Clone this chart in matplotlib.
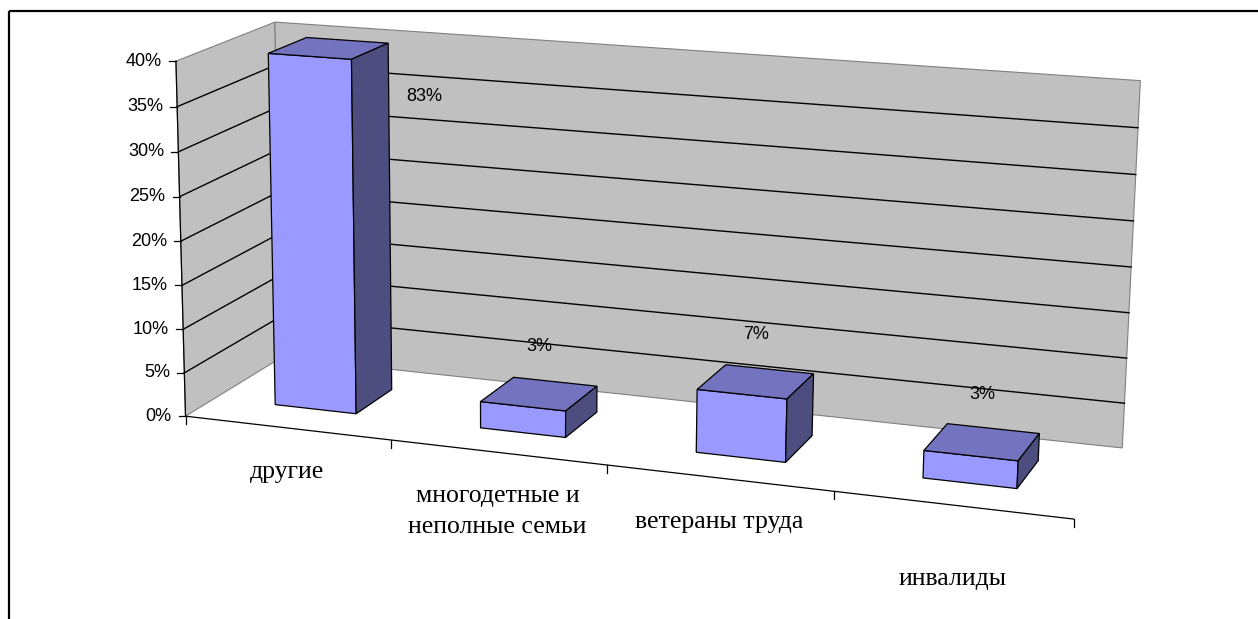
import numpy as np
import matplotlib.pyplot as plt
from matplotlib.patches import Polygon, Rectangle

categories = ["другие", "многодетные и\nнеполные семьи", "ветераны труда", "\nинвалиды"]
shares = [83, 3, 7, 3]
value_labels = ["83%", "3%", "7%", "3%"]
y_ticks = [0, 5, 10, 15, 20, 25, 30, 35, 40]
y_max = 40

# camera: where corners of the plot box (category, percent, depth) land on the canvas in px
box_world = [(0, 0, 0), (4, 0, 0), (0, 40, 0), (0, 0, 1), (0, 40, 1),
             (4, 40, 1), (4, 0, 1), (1, 0, 0), (2, 0, 0), (3, 0, 0)]
box_px = [(188, 413), (1074, 520), (173, 61), (278, 360), (278, 22),
          (1140, 81), (1123, 445), (392, 440), (608, 466), (832, 493)]


def fit_camera(world, px):
    rows, rhs = [], []
    for (X, Y, Z), (u, v) in zip(world, px):
        rows.append([X, Y, Z, 1, 0, 0, 0, 0, -u * X, -u * Y, -u * Z])
        rhs.append(u)
        rows.append([0, 0, 0, 0, X, Y, Z, 1, -v * X, -v * Y, -v * Z])
        rhs.append(v)
    p, *_ = np.linalg.lstsq(np.array(rows, float), np.array(rhs, float), rcond=None)
    return np.append(p, 1.0).reshape(3, 4)


P = fit_camera(box_world, box_px)


def proj(x, y, z):
    h = P @ np.array([x, y, z, 1.0])
    return h[0] / h[2], h[1] / h[2]


def face(pts, **kw):
    return Polygon([proj(*p) for p in pts], closed=True, **kw)


def line(ax, pts, **kw):
    xy = np.array([proj(*p) for p in pts])
    ax.plot(xy[:, 0], xy[:, 1], **kw)


fig = plt.figure(figsize=(12.58, 6.19), dpi=100)
ax = fig.add_axes([0, 0, 1, 1])
ax.set_xlim(0, 1258)
ax.set_ylim(619, 0)
ax.axis("off")

ax.add_patch(Rectangle((9, 11), 1400, 800, fill=False, ec="black", lw=1.6))

n = len(categories)
wall = dict(fc="#C0C0C0", ec="#808080", lw=0.8, zorder=1)
ax.add_patch(face([(0, 0, 0), (0, y_max, 0), (0, y_max, 1), (0, 0, 1)], **wall))
ax.add_patch(face([(0, 0, 1), (n, 0, 1), (n, y_max, 1), (0, y_max, 1)], **wall))
for t in y_ticks[1:-1]:
    line(ax, [(0, t, 0), (0, t, 1), (n, t, 1)], color="black", lw=1.0, zorder=2)

# value axis
line(ax, [(0, 0, 0), (0, y_max, 0)], color="black", lw=0.9)
for t in y_ticks:
    u, v = proj(0, t, 0)
    ax.plot([u - 7, u], [v, v], color="black", lw=0.9)
    ax.text(u - 14, v, f"{t}%", ha="right", va="center", fontsize=13,
            family="Liberation Sans")

# category axis
line(ax, [(0, 0, 0), (n, 0, 0)], color="black", lw=0.9)
for k in range(n + 1):
    u, v = proj(k, 0, 0)
    ax.plot([u, u], [v, v + 8], color="black", lw=0.9)
for i, name in enumerate(categories):
    u, v = proj(i + 0.5, 0, 0)
    ax.text(u, v + 33, name, ha="center", va="top", fontsize=18.5,
            family="Liberation Serif", linespacing=1.5)

# bars
edge = dict(ec="black", lw=0.9, zorder=3)
for i, val in enumerate(shares):
    h = min(val, y_max)
    x0, x1, z0, z1 = i + 0.3, i + 0.7, 0.3, 0.7
    ax.add_patch(face([(x0, 0, z0), (x1, 0, z0), (x1, h, z0), (x0, h, z0)], fc="#9999FF", **edge))
    ax.add_patch(face([(x0, h, z0), (x1, h, z0), (x1, h, z1), (x0, h, z1)], fc="#7373BF", **edge))
    ax.add_patch(face([(x1, 0, z0), (x1, 0, z1), (x1, h, z1), (x1, h, z0)], fc="#4D4D80", **edge))
    if val > y_max:
        u, v = proj(x1, y_max - 6, z1)
        ax.text(u + 18, v, value_labels[i], ha="left", va="center", fontsize=13,
                family="Liberation Sans", zorder=4)
    else:
        u, v = proj(i + 0.5, h, 0.5)
        ax.text(u, v - 47, value_labels[i], ha="center", va="center", fontsize=13,
                family="Liberation Sans", zorder=4)

fig.savefig("out.png", dpi=100)
